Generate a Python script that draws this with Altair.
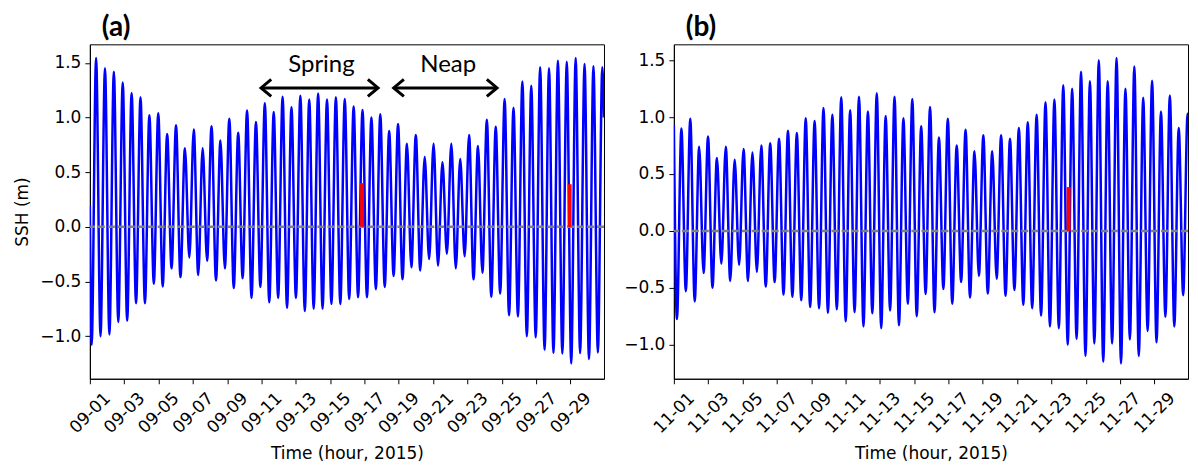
import json
import altair as alt
import pandas as pd

# ---------------- data ----------------
HALF_PERIOD_H = 6.21          # half of the semidiurnal tidal period (hours)
T_END_H = 719                 # last hour shown (30 days of hourly data)

# Panel (a): September 2015  (successive low waters / high waters, m)
sep_troughs = [-1.08, -1.00, -0.985, -0.87, -0.86, -0.70, -0.70, -0.52, -0.545, -0.38,
               -0.46, -0.28, -0.44, -0.31, -0.49, -0.38, -0.56, -0.47, -0.65, -0.55,
               -0.69, -0.65, -0.74, -0.65, -0.77, -0.75, -0.75, -0.705, -0.705, -0.66,
               -0.645, -0.645, -0.57, -0.55, -0.45, -0.48, -0.37, -0.40, -0.295, -0.355,
               -0.245, -0.38, -0.27, -0.48, -0.42, -0.64, -0.61, -0.81, -0.82, -1.00,
               -1.01, -1.125, -1.155, -1.16, -1.25, -1.155, -1.21, -1.15]
sep_peaks = [1.545, 1.45, 1.42, 1.32, 1.225, 1.186, 1.02, 1.04, 0.85, 0.93,
             0.72, 0.89, 0.72, 0.92, 0.79, 0.99, 0.86, 1.065, 0.96, 1.13,
             1.05, 1.19, 1.095, 1.20, 1.165, 1.22, 1.165, 1.186, 1.17, 1.10,
             1.07, 1.00, 1.03, 0.876, 0.94, 0.76, 0.84, 0.64, 0.76, 0.59,
             0.76, 0.62, 0.84, 0.74, 0.98, 0.915, 1.17, 1.09, 1.33, 1.29,
             1.46, 1.45, 1.52, 1.51, 1.545, 1.49, 1.47, 1.46]
sep_first_low_h = 2.5
sep_start_val, sep_end_val = 0.19, 1.0

# Panel (b): November 2015
nov_troughs = [-0.775, -0.53, -0.62, -0.37, -0.50, -0.29, -0.44, -0.30, -0.44, -0.36,
               -0.49, -0.45, -0.56, -0.58, -0.61, -0.67, -0.68, -0.72, -0.69, -0.795,
               -0.715, -0.84, -0.725, -0.855, -0.70, -0.83, -0.64, -0.75, -0.555, -0.715,
               -0.51, -0.64, -0.45, -0.585, -0.395, -0.55, -0.42, -0.57, -0.52, -0.65,
               -0.68, -0.745, -0.84, -0.855, -1.00, -0.95, -1.10, -0.99, -1.15, -0.99,
               -1.165, -0.955, -1.10, -0.88, -0.98, -0.755, -0.84, -0.565]
nov_peaks = [0.90, 0.985, 0.74, 0.83, 0.64, 0.74, 0.625, 0.72, 0.69, 0.75,
             0.77, 0.81, 0.88, 0.86, 0.99, 0.965, 1.08, 1.02, 1.175, 1.06,
             1.18, 1.05, 1.21, 1.01, 1.18, 0.99, 1.16, 0.92, 1.09,
             0.82, 0.985, 0.75, 0.89, 0.70, 0.84, 0.70, 0.84, 0.81, 0.905,
             0.955, 1.02, 1.13, 1.155, 1.28, 1.25, 1.40, 1.315, 1.50, 1.315,
             1.52, 1.25, 1.445, 1.17, 1.32, 1.05, 1.19, 0.905, 1.03]
nov_first_low_h = 4.3
nov_start_val, nov_end_val = 0.93, 1.0

# red markers (hour, height in m)
sep_marks_h = [380.7, 671.0]
sep_marks_v = [0.40, 0.39]
nov_marks_h = [552.0]
nov_marks_v = [0.385]

# tick labels every 48 h
sep_tick_labels = ["09-01", "09-03", "09-05", "09-07", "09-09", "09-11", "09-13", "09-15",
                   "09-17", "09-19", "09-21", "09-23", "09-25", "09-27", "09-29"]
nov_tick_labels = ["11-01", "11-03", "11-05", "11-07", "11-09", "11-11", "11-13", "11-15",
                   "11-17", "11-19", "11-21", "11-23", "11-25", "11-27", "11-29"]
tick_hours = [48 * i for i in range(15)]
y_ticks = [-1.0, -0.5, 0.0, 0.5, 1.0, 1.5]

# annotations for panel (a)
ann_labels = ["Spring", "Neap"]
ann_text_h = [323.9, 501.2]
ann_text_v = [1.42, 1.42]
arrow_from_h = [239.4, 424.9]
arrow_to_h = [403.0, 569.4]
arrow_v = [1.271, 1.271]

# ---------------- build tables ----------------
def build_series(start_val, end_val, first_low, lows, highs):
    rows = [{"h": 0.0, "v": start_val}]
    for i, (lo, hi) in enumerate(zip(lows, highs)):
        rows.append({"h": first_low + 2 * i * HALF_PERIOD_H, "v": lo})
        rows.append({"h": first_low + (2 * i + 1) * HALF_PERIOD_H, "v": hi})
    rows.append({"h": float(T_END_H), "v": end_val})
    return pd.DataFrame(rows)

sep_df = build_series(sep_start_val, sep_end_val, sep_first_low_h, sep_troughs, sep_peaks)
nov_df = build_series(nov_start_val, nov_end_val, nov_first_low_h, nov_troughs, nov_peaks)

TICK_FONT = "DejaVu Sans"
ANN_FONT = "Lato"


def panel(df, title, tick_labels, ydomain, marks_h, marks_v, show_ytitle, annotate=False):
    label_expr = json.dumps(tick_labels) + "[round(datum.value / 48)]"
    xaxis = alt.Axis(values=tick_hours, labelExpr=label_expr, labelAngle=315,
                     labelAlign="center", labelBaseline="middle", labelPadding=29,
                     labelOverlap=False, labelFlush=False, labelBound=False,
                     title="Time (hour, 2015)", titlePadding=10, grid=False)
    xscale = alt.Scale(domain=[0, T_END_H], nice=False, zero=False)
    yaxis_kwargs = dict(values=y_ticks, format=".1f", grid=False, labelPadding=4)
    if show_ytitle:
        yaxis_kwargs.update(title="SSH (m)", titlePadding=8)
    else:
        yaxis_kwargs.update(title=None)
    yaxis = alt.Axis(**yaxis_kwargs)
    yscale = alt.Scale(domain=ydomain, nice=False, zero=False)

    def X(f):
        return alt.X(f, type="quantitative", scale=xscale, axis=xaxis)

    def Y(f):
        return alt.Y(f, type="quantitative", scale=yscale, axis=yaxis)

    line = alt.Chart(df).mark_line(color="#0000ff", strokeWidth=2.5,
                                   interpolate="monotone", clip=True).encode(x=X("h"), y=Y("v"))
    zero = alt.Chart(pd.DataFrame({"v": [0.0]})).mark_rule(
        color="#808080", strokeWidth=2.5, strokeDash=[7, 3]).encode(y=Y("v"))
    red = alt.Chart(pd.DataFrame({"h": marks_h, "v": marks_v, "z": [0.0] * len(marks_h)})).mark_rule(
        color="#ff0000", strokeWidth=4).encode(x=X("h"), y=Y("z"), y2="v:Q")
    layers = [line, zero, red]
    if annotate:
        arrows_df = pd.DataFrame({"a": arrow_from_h, "b": arrow_to_h, "v": arrow_v})
        shaft = alt.Chart(arrows_df).mark_rule(color="black", strokeWidth=3).encode(
            x=X("a"), x2="b:Q", y=Y("v"))
        left_head = alt.Chart(arrows_df).mark_point(
            shape="M 1.2 -1 L 0 0 L 1.2 1", filled=False, color="black", strokeWidth=3,
            size=289, opacity=1).encode(x=X("a"), y=Y("v"))
        right_head = alt.Chart(arrows_df).mark_point(
            shape="M -1.2 -1 L 0 0 L -1.2 1", filled=False, color="black", strokeWidth=3,
            size=289, opacity=1).encode(x=X("b"), y=Y("v"))
        ann_text = alt.Chart(pd.DataFrame({"h": ann_text_h, "v": ann_text_v, "t": ann_labels})).mark_text(
            font=ANN_FONT, fontSize=24, color="black", baseline="alphabetic").encode(
            x=X("h"), y=Y("v"), text="t:N")
        layers += [shaft, left_head, right_head, ann_text]
    return alt.layer(*layers).properties(
        width=515, height=335,
        title=alt.TitleParams(title, anchor="start", frame="group", dx=12, font=ANN_FONT,
                              fontSize=28, fontWeight="bold", color="black", offset=2))


pa = panel(sep_df, "(a)", sep_tick_labels, [-1.39, 1.67], sep_marks_h, sep_marks_v, True,
           annotate=True)
pb = panel(nov_df, "(b)", nov_tick_labels, [-1.30, 1.64], nov_marks_h, nov_marks_v, False)

chart = alt.hconcat(pa, pb, spacing=17).properties(
    padding={"left": 5, "top": 5, "right": 0, "bottom": 0},
    background="white"
).configure_view(stroke="black", strokeWidth=1).configure_axis(
    labelFont=TICK_FONT, titleFont=TICK_FONT, labelFontSize=17, titleFontSize=17,
    labelColor="black", titleColor="black", titleFontWeight="normal",
    domainColor="black", tickColor="black", tickSize=5, domainWidth=1, tickWidth=1,
    labelOverlap=False, labelFlush=False, labelBound=False
)

chart.save("out.html", embed_options={"renderer": "svg", "actions": False})
